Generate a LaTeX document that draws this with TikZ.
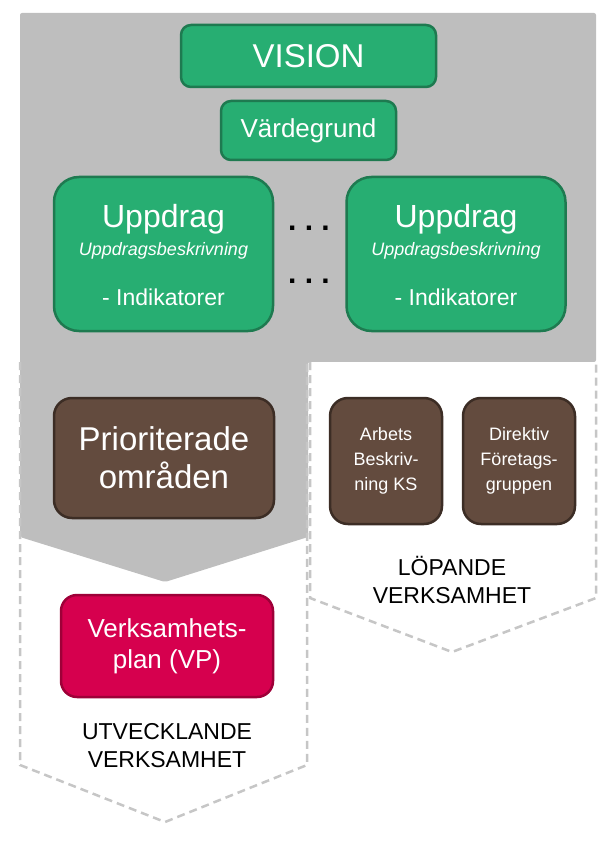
\documentclass[tikz,border=0pt]{standalone}
\usepackage{fontspec}
\setmainfont{Liberation Sans}
\usetikzlibrary{positioning}
\definecolor{panelgray}{RGB}{190,190,190}
\definecolor{dashgray}{RGB}{198,198,198}
\definecolor{boxgreen}{RGB}{39,174,114}
\definecolor{boxgreenedge}{RGB}{30,122,80}
\definecolor{boxbrown}{RGB}{99,75,62}
\definecolor{boxbrownedge}{RGB}{60,45,37}
\definecolor{boxred}{RGB}{214,0,78}
\definecolor{boxrededge}{RGB}{158,0,56}
\tikzset{
  greenbox/.style={draw=boxgreenedge, fill=boxgreen, line width=2.5pt, text=white, align=center, inner sep=0pt},
  brownbox/.style={draw=boxbrownedge, fill=boxbrown, line width=2.5pt, text=white, align=center, inner sep=0pt},
  redbox/.style={draw=boxrededge, fill=boxred, line width=2.5pt, text=white, align=center, inner sep=0pt},
  arealine/.style={draw=dashgray, line width=2.5pt, dash pattern=on 8pt off 5pt},
  arealabel/.style={align=center, font=\fontsize{23}{28}\selectfont},
  dots/.style={font=\fontsize{30}{30}\selectfont\bfseries}
}

\begin{document}
\begin{tikzpicture}[x=1pt, y=-1pt]
  \useasboundingbox (0,0) rectangle (606,842);
  % Gray background with the arrow down into the VP area
  \fill[panelgray, rounded corners=2pt] (20,13) -- (596,13) -- (596,362) -- (308,362)
    -- (308,537) -- (165,582) -- (20,537) -- cycle;
  % Right area (ongoing work)
  \fill[white] (310,362) -- (310,598) -- (452,652) -- (596,598) -- (596,362) -- cycle;
  \draw[arealine] (310,362) -- (310,598) -- (452,652) -- (596,598) -- (596,362);
  % Left area (development)
  \draw[arealine] (20,362) -- (20,765) -- (165,822) -- (307,765) -- (307,362);

  % Top level
  \node[greenbox, rounded corners=10pt, minimum width=255pt, minimum height=62pt,
    font=\fontsize{33}{36}\selectfont] (vision) at (308.5,56) {VISION};
  \node[greenbox, rounded corners=10pt, minimum width=175pt, minimum height=59pt,
    font=\fontsize{26}{30}\selectfont] (vardegrund) at (308.5,130.5) {Värdegrund};

  % Uppdrag boxes
  \node[greenbox, rounded corners=25pt, minimum width=219pt, minimum height=154pt] (uppL) at (163.5,254) {};
  \node[greenbox, rounded corners=25pt, minimum width=219pt, minimum height=154pt] (uppR) at (456,254) {};
  \foreach \bx/\cx in {uppL/163.5, uppR/456} {
    \node[anchor=base, text=white, font=\fontsize{32}{36}\selectfont] (\bx-title) at (\cx,228) {Uppdrag};
    \node[anchor=base, text=white, font=\fontsize{18}{20}\selectfont\itshape] (\bx-desc) at (\cx,255) {Uppdragsbeskrivning};
    \node[anchor=base, text=white, font=\fontsize{23}{26}\selectfont] (\bx-ind) at (\cx,305) {- Indikatorer};
  }
  \node[dots] (dotsA) at (309,228) {.\ .\ .};
  \node[dots] (dotsB) at (309,281) {.\ .\ .};

  % Brown boxes
  \node[brownbox, rounded corners=18pt, minimum width=220pt, minimum height=120pt,
    font=\fontsize{33}{38}\selectfont] (prio) at (164,458) {Prioriterade\\områden};
  \node[brownbox, rounded corners=18pt, minimum width=112pt, minimum height=126pt,
    font=\fontsize{18}{25}\selectfont] (arbets) at (386,461) {Arbets\\Beskriv-\\ning KS};
  \node[brownbox, rounded corners=18pt, minimum width=112pt, minimum height=126pt,
    font=\fontsize{18}{25}\selectfont] (direktiv) at (519,461) {Direktiv\\Företags-\\gruppen};
  \node[arealabel] (lopande) at (452,580) {LÖPANDE\\VERKSAMHET};

  % Verksamhetsplan
  \node[redbox, rounded corners=16pt, minimum width=212pt, minimum height=102pt,
    font=\fontsize{26}{31}\selectfont] (vp) at (167,646) {Verksamhets-\\plan (VP)};
  \node[arealabel] (utveckl) at (167,746) {UTVECKLANDE\\VERKSAMHET};
\end{tikzpicture}
\end{document}
